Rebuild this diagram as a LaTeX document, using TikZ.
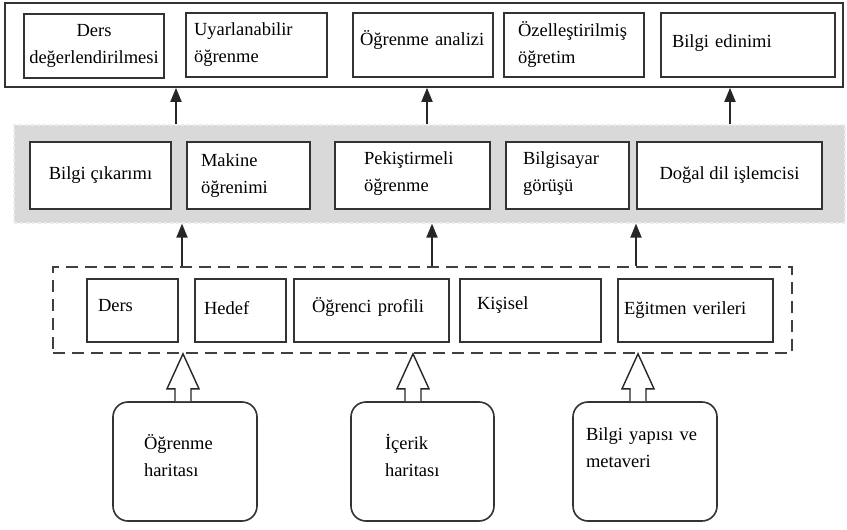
\documentclass[tikz,border=0pt]{standalone}
\usepackage{fontspec}
\setmainfont{Liberation Serif}
\usetikzlibrary{arrows.meta,calc}
\tikzset{
  >=Latex,
  every node/.style={font=\fontsize{18.5}{27}\selectfont,text=black},
  box/.style={draw=black!80,line width=1.6pt,fill=white,inner sep=0pt,align=center},
  leftbox/.style={box,align=left},
  lift/.style={execute at end node={\par\vspace{#1}\hrule height 0pt}},
  band/.style={fill=black!15,draw=black!7,dashed,line width=1.2pt},
  group/.style={draw=black!75,line width=1.6pt,dash pattern=on 12pt off 7pt},
  source/.style={box,rounded corners=15pt,align=left,minimum height=119pt,lift=12pt},
  arrow/.style={-{Triangle[width=11pt,length=14pt]},line width=1.8pt,draw=black!85},
  hollow/.style={draw=black!85,line width=1.4pt,fill=white,line join=miter},
}
% open block arrow from the top of #1 up to the bottom of #2, at x = #3
\newcommand{\hollowarrow}[3]{%
  \draw[hollow] let \p1=(#3,0 |- #1.north), \p2=(#3,0 |- #2.south) in
    (\x1-8pt,\y1) -- (\x1-8pt,\y2-35pt) -- (\x1-16pt,\y2-35pt) -- (\x2,\y2)
    -- (\x1+16pt,\y2-35pt) -- (\x1+8pt,\y2-35pt) -- (\x1+8pt,\y1);}

\begin{document}
\begin{tikzpicture}[x=1pt,y=-1pt]
  \useasboundingbox (0,0) rectangle (847,530);
  % applications
  \node[box,minimum width=838pt,minimum height=84pt] (apps) at (424,45) {};
  \node[box,minimum width=140pt,minimum height=64pt] (assess) at (94,46) {Ders\\değerlendirilmesi};
  \node[leftbox,text width=125pt,inner xsep=8pt,minimum height=64pt] (adaptive) at (256.5,45) {Uyarlanabilir\\öğrenme};
  \node[leftbox,text width=126pt,inner xsep=7pt,minimum height=64pt,lift=10pt] (analytics) at (423,45) {Öğrenme analizi};
  \node[leftbox,text width=112pt,inner xsep=14pt,minimum height=64pt] (tailored) at (574,45) {Özelleştirilmiş\\öğretim};
  \node[leftbox,text width=152pt,inner xsep=11pt,minimum height=64pt,lift=4pt] (acquire) at (748,45) {Bilgi edinimi};
  % techniques
  \node[band,minimum width=831pt,minimum height=98pt] (methods) at (429.5,174) {};
  \node[box,minimum width=141pt,minimum height=67pt] (extract) at (100.5,175.5) {Bilgi çıkarımı};
  \node[leftbox,text width=95pt,inner xsep=14pt,minimum height=67pt] (learn) at (248.5,175.5) {Makine\\öğrenimi};
  \node[leftbox,text width=97pt,inner xsep=29pt,minimum height=67pt,lift=4pt] (reinforce) at (412.5,175.5) {Pekiştirmeli\\öğrenme};
  \node[leftbox,text width=89pt,inner xsep=17pt,minimum height=67pt,lift=4pt] (vision) at (567.5,175.5) {Bilgisayar\\görüşü};
  \node[box,minimum width=185pt,minimum height=67pt] (nlp) at (729.5,175.5) {Doğal dil işlemcisi};
  % data
  \node[group,minimum width=739pt,minimum height=86pt] (inputs) at (422.5,310) {};
  \node[leftbox,text width=69pt,inner xsep=11pt,minimum height=63pt,lift=10pt] (course) at (132.5,310.5) {Ders};
  \node[leftbox,text width=73pt,inner xsep=9pt,minimum height=63pt,lift=5pt] (goal) at (240.5,310.5) {Hedef};
  \node[leftbox,text width=119pt,inner xsep=18pt,minimum height=63pt,lift=6pt] (profile) at (371.5,310.5) {Öğrenci profili};
  \node[leftbox,text width=107pt,inner xsep=17pt,minimum height=63pt,lift=10pt] (personal) at (530.5,310.5) {Kişisel};
  \node[leftbox,text width=143pt,inner xsep=6pt,minimum height=63pt] (tutor) at (695.5,310.5) {Eğitmen verileri};
  % sources
  \node[source,text width=82pt,inner xsep=31pt] (lmap) at (185,461.5) {Öğrenme\\haritası};
  \node[source,text width=75pt,inner xsep=34pt] (cmap) at (422.5,461.5) {İçerik\\haritası};
  \node[source,text width=118pt,inner xsep=13pt,lift=16pt] (meta) at (645,461.5) {Bilgi yapısı ve\\metaveri};
  % arrows
  \draw[arrow] (176,0 |- methods.north) -- (176,0 |- apps.south);
  \draw[arrow] (427,0 |- methods.north) -- (427,0 |- apps.south);
  \draw[arrow] (730,0 |- methods.north) -- (730,0 |- apps.south);
  \draw[arrow] (182,0 |- inputs.north) -- (182,0 |- methods.south);
  \draw[arrow] (432,0 |- inputs.north) -- (432,0 |- methods.south);
  \draw[arrow] (636,0 |- inputs.north) -- (636,0 |- methods.south);
  \hollowarrow{lmap}{inputs}{183}
  \hollowarrow{cmap}{inputs}{413}
  \hollowarrow{meta}{inputs}{638}
\end{tikzpicture}
\end{document}
